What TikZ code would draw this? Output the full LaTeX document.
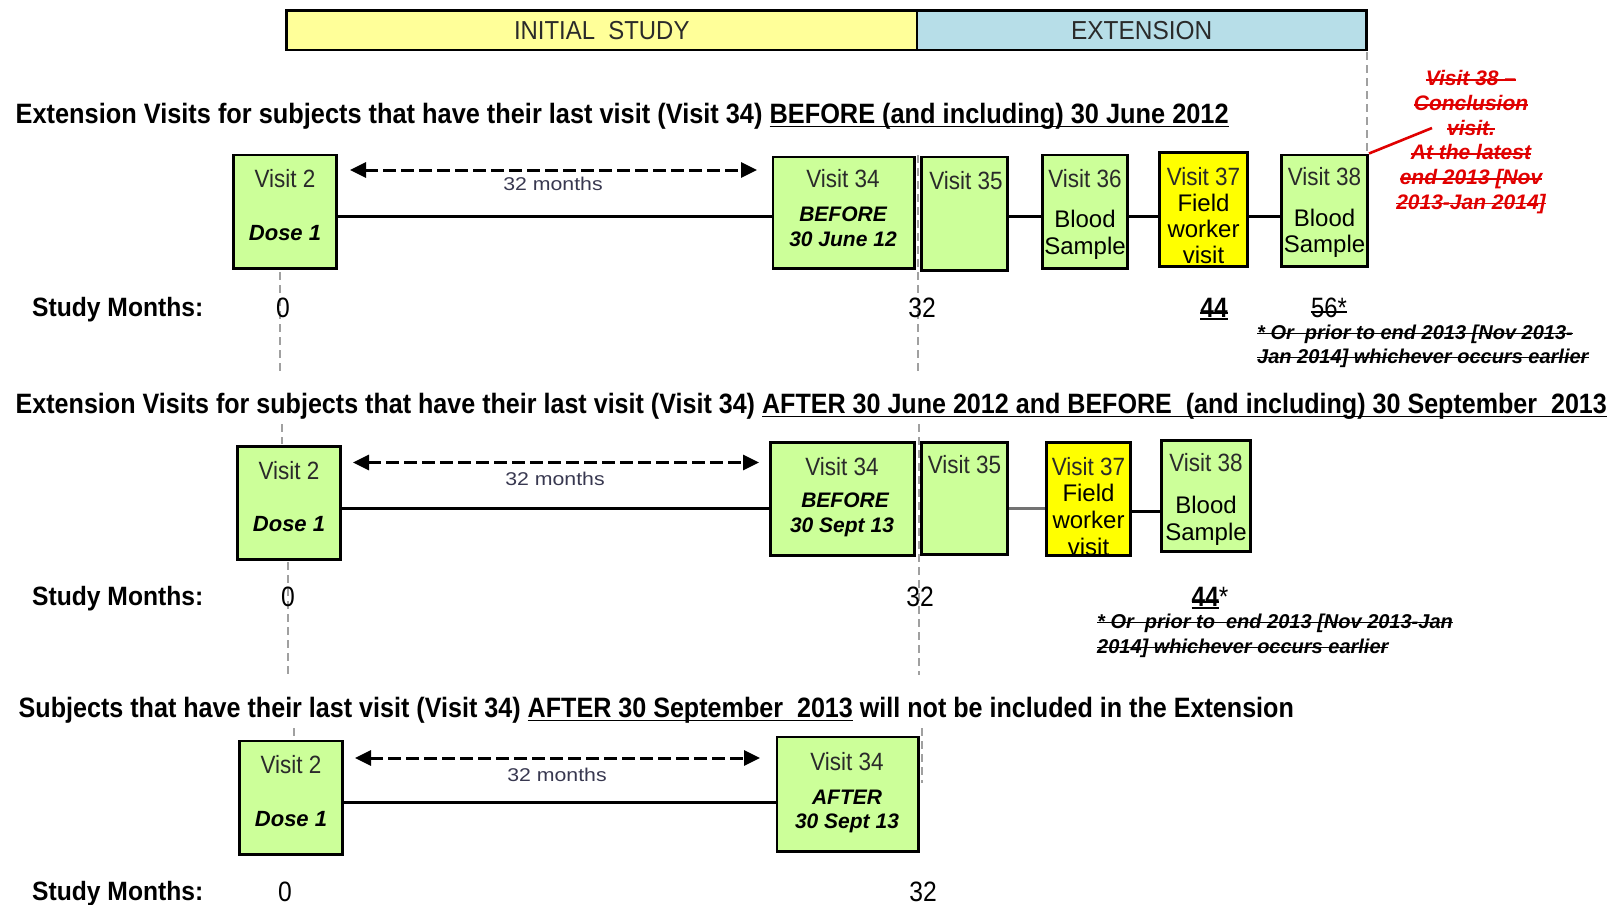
\documentclass[tikz,border=0pt]{standalone}
\usepackage{fontspec}
\setmainfont{Liberation Sans}
\usepackage{graphicx}
\usetikzlibrary{arrows.meta}
\definecolor{barY}{HTML}{FFFF99}
\definecolor{barB}{HTML}{B7DEE8}
\definecolor{boxG}{HTML}{CCFF99}
\definecolor{boxY}{HTML}{FFFF00}
\definecolor{redT}{HTML}{E00000}
\definecolor{txt}{HTML}{2A2A2A}
\definecolor{monthT}{HTML}{383850}
\definecolor{guideC}{HTML}{A0A0A0}
\newcommand{\fsz}[1]{\fontsize{#1}{#1}\selectfont}
\newcommand{\hsc}[2]{\scalebox{#1}[1]{#2}}
\newcommand{\ulx}[1]{\setbox0\hbox{#1}\leavevmode\rlap{\vrule height -2.2pt depth 3.8pt width \wd0}\box0\relax}
\newcommand{\sox}[1]{\setbox0\hbox{#1}\leavevmode\rlap{\vrule height 6.6pt depth -4.8pt width \wd0}\box0\relax}
\tikzset{
  vbox/.style={draw=black, line width=2.8pt, inner sep=0pt},
  gbox/.style={vbox, fill=boxG},
  ybox/.style={vbox, fill=boxY},
  bar/.style={draw=black, line width=2.8pt, inner sep=0pt, font=\fsz{26}, text=txt},
  lbl/.style={anchor=base, inner sep=0pt, text=txt},
  vis/.style={lbl, font=\fsz{25}, yshift=-8.9pt},
  dose/.style={lbl, font=\fsz{22}\bfseries\itshape, yshift=-7.8pt, text=black},
  bef/.style={lbl, font=\fsz{21}\bfseries\itshape, yshift=-7.5pt, text=black},
  big/.style={lbl, font=\fsz{24}, yshift=-8.6pt, text=black},
  mon/.style={lbl, font=\fsz{18.5}, yshift=-6.6pt, text=monthT},
  head/.style={anchor=base west, inner sep=0pt, font=\fsz{28}\bfseries, text=black},
  smo/.style={anchor=base west, inner sep=0pt, font=\fsz{26.5}\bfseries, text=black, yshift=-9.4pt},
  num/.style={lbl, font=\fsz{28}, yshift=-10pt, text=black},
  foot/.style={anchor=base west, inner sep=0pt, font=\fsz{20}\bfseries\itshape, text=black, yshift=-7.1pt},
  redtxt/.style={inner sep=0pt, align=center, font=\fontsize{21}{24.7}\selectfont\bfseries\itshape, text=redT},
  conn/.style={draw=black, line width=3pt},
  darrow/.style={draw=black, line width=3pt, dash pattern=on 13pt off 5pt,
    {Triangle[length=16pt,width=15pt]}-{Triangle[length=16pt,width=15pt]}},
  guide/.style={draw=guideC, line width=2.4pt, dash pattern=on 8pt off 5pt},
  strk/.style={draw=black, line width=1.8pt},
  redline/.style={draw=redT, line width=2.6pt},
}
\begin{document}
\begin{tikzpicture}[x=1pt,y=-1pt]
\useasboundingbox (0,0) rectangle (1615,905);
\fill[white] (0,0) rectangle (1615,905);

% ---- gray dashed guides ----
\draw[guide] (280,272) -- (280,371);
\draw[guide] (282,424) -- (282,444);
\draw[guide] (288,562) -- (288,675);
\draw[guide] (294,728) -- (294,739);
\draw[guide] (918,155) -- (918,371);
\draw[guide] (919,424) -- (919,675);
\draw[guide] (922,728) -- (922,783);
\draw[guide] (1367,52) -- (1367,152);

% ---- top bar ----
\node[bar, fill=barY, minimum width=630.5pt, minimum height=39.6pt] (initial) at (601.75,30.2) {\hsc{0.92}{INITIAL\ \ STUDY}};
\node[bar, fill=barB, minimum width=449.5pt, minimum height=39.6pt] (extension) at (1141.75,30.2) {\hsc{0.94}{EXTENSION}};

% ---- headings ----
\node[head] (h1) at (15.5,123.5) {\hsc{0.905}{Extension Visits for subjects that have their last visit (Visit 34) \ulx{BEFORE (and including) 30 June 2012}}};
\node[head] (h2) at (15.5,413.5) {\hsc{0.896}{Extension Visits for subjects that have their last visit (Visit 34) \ulx{AFTER 30 June 2012 and BEFORE\ \ (and including) 30 September\ \ 2013}}};
\node[head] (h3) at (18.5,717.4) {\hsc{0.897}{Subjects that have their last visit (Visit 34) \ulx{AFTER 30 September\ \ 2013} will not be included in the Extension}};

% ---- row 1 ----
\coordinate (y1) at (0,216);
\coordinate (a1l) at (350,170);
\coordinate (a1r) at (757,170);
\node[gbox, minimum width=103.2pt, minimum height=113.7pt] (r1v2) at (285,211.75) {};
\node[gbox, minimum width=141.7pt, minimum height=111.7pt] (r1v34) at (843.75,212.75) {};
\node[gbox, minimum width=86.2pt, minimum height=113.7pt] (r1v35) at (964.5,213.75) {};
\node[gbox, minimum width=85.2pt, minimum height=113.7pt] (r1v36) at (1085,211.75) {};
\node[ybox, minimum width=88.2pt, minimum height=114.2pt] (r1v37) at (1203.5,209.5) {};
\node[gbox, minimum width=86.2pt, minimum height=111.7pt] (r1v38) at (1324.5,210.75) {};
\draw[conn] (r1v2.east |- y1) -- (r1v34.west |- y1);
\draw[conn] (r1v35.east |- y1) -- (r1v36.west |- y1);
\draw[conn] (r1v36.east |- y1) -- (r1v37.west |- y1);
\draw[conn] (r1v37.east |- y1) -- (r1v38.west |- y1);
\draw[darrow] (a1l) -- (a1r);
\node[mon] (m1) at (553,184) {\hsc{1.15}{32 months}};

\node[vis] (t1a) at (285,179) {\hsc{0.9}{Visit 2}};
\node[dose] (t1b) at (285,233) {Dose 1};
\node[vis] (t1c) at (843,179) {\hsc{0.9}{Visit 34}};
\node[bef] (t1d) at (843,214) {BEFORE};
\node[bef] (t1e) at (843,239) {30 June 12};
\node[vis] (t1f) at (966,181) {\hsc{0.9}{Visit 35}};
\node[vis] (t1g) at (1085,179) {\hsc{0.9}{Visit 36}};
\node[big] (t1h) at (1085,219) {Blood};
\node[big] (t1i) at (1085,246) {Sample};
\node[vis] (t1j) at (1203.5,177) {\hsc{0.9}{Visit 37}};
\node[big] (t1k) at (1203.5,203) {Field};
\node[big] (t1l) at (1203.5,229) {worker};
\node[big] (t1m) at (1203.5,255) {visit};
\node[vis] (t1n) at (1324.5,177) {\hsc{0.9}{Visit 38}};
\node[big] (t1o) at (1324.5,218) {Blood};
\node[big] (t1p) at (1324.5,244) {Sample};

\coordinate (redend) at (1432,128);
\draw[redline] (r1v38.north east) -- (redend);
\node[redtxt] (rnote) at (1471,142) {\sox{Visit 38 --}\\\sox{Conclusion}\\\sox{visit.}\\\sox{At the latest}\\\sox{end 2013 [Nov}\\\sox{2013-Jan 2014]}};

\node[smo] (sm1) at (32,307) {\hsc{0.93}{Study Months:}};
\node[num] (n1a) at (283,307) {\hsc{0.88}{0}};
\node[num] (n1b) at (922,307) {\hsc{0.88}{32}};
\node[num, font=\fsz{28}\bfseries] (n1c) at (1214,307) {\hsc{0.87}{44}};
\node[num] (n1d) at (1329,307) {\hsc{0.85}{56*}};
\draw[strk] ([yshift=4pt]n1c.base west) -- ([yshift=4pt]n1c.base east);
\draw[strk] ([yshift=-2pt]n1c.base west) -- ([yshift=-2pt]n1c.base east);
\draw[strk] ([yshift=5pt]n1d.base west) -- ([yshift=5pt]n1d.base east);
\node[foot] (f1a) at (1257,332) {\sox{* Or\ \ prior to end 2013 [Nov 2013-}};
\node[foot] (f1b) at (1257,356) {\sox{Jan 2014] whichever occurs earlier}};

% ---- row 2 ----
\coordinate (y2) at (0,508);
\coordinate (y2b) at (0,511);
\coordinate (a2l) at (353,462.5);
\coordinate (a2r) at (759,462.5);
\node[gbox, minimum width=103.2pt, minimum height=113.2pt] (r2v2) at (289,503) {};
\node[gbox, minimum width=144.2pt, minimum height=113.2pt] (r2v34) at (842.5,499) {};
\node[gbox, minimum width=86.2pt, minimum height=112.2pt] (r2v35) at (964.5,498.5) {};
\node[ybox, minimum width=84.2pt, minimum height=113.2pt] (r2v37) at (1088.5,499) {};
\node[gbox, minimum width=89.2pt, minimum height=111.2pt] (r2v38) at (1206,496) {};
\draw[conn] (r2v2.east |- y2) -- (r2v34.west |- y2);
\draw[conn, draw=black!55] (r2v35.east |- y2) -- (r2v37.west |- y2);
\draw[conn] (r2v37.east |- y2b) -- (r2v38.west |- y2b);
\draw[darrow] (a2l) -- (a2r);
\node[mon] (m2) at (555,479) {\hsc{1.15}{32 months}};

\node[vis] (t2a) at (289,471) {\hsc{0.9}{Visit 2}};
\node[dose] (t2b) at (289,524) {Dose 1};
\node[vis] (t2c) at (842,467) {\hsc{0.9}{Visit 34}};
\node[bef] (t2d) at (845,500) {BEFORE};
\node[bef] (t2e) at (842,525) {30 Sept 13};
\node[vis] (t2f) at (964.5,464.5) {\hsc{0.9}{Visit 35}};
\node[vis] (t2g) at (1088.5,467) {\hsc{0.9}{Visit 37}};
\node[big] (t2h) at (1088.5,493) {Field};
\node[big] (t2i) at (1088.5,520) {worker};
\node[big] (t2j) at (1088.5,547) {visit};
\node[vis] (t2k) at (1206,462.5) {\hsc{0.9}{Visit 38}};
\node[big] (t2l) at (1206,505) {Blood};
\node[big] (t2m) at (1206,531.5) {Sample};

\node[smo] (sm2) at (32,596) {\hsc{0.93}{Study Months:}};
\node[num] (n2a) at (288,596) {\hsc{0.88}{0}};
\node[num] (n2b) at (920,596) {\hsc{0.88}{32}};
\node[num] (n2c) at (1210,596) {\hsc{0.87}{\textbf{44}*}};
\draw[strk] ([yshift=4pt]n2c.base west) -- ([xshift=-10pt,yshift=4pt]n2c.base east);
\draw[strk] ([yshift=-2pt]n2c.base west) -- ([xshift=-10pt,yshift=-2pt]n2c.base east);
\node[foot] (f2a) at (1097,621) {\sox{* Or\ \ prior to\ \ end 2013 [Nov 2013-Jan}};
\node[foot] (f2b) at (1097,646) {\sox{2014] whichever occurs earlier}};

% ---- row 3 ----
\coordinate (y3) at (0,802);
\coordinate (a3l) at (355,758);
\coordinate (a3r) at (760,758);
\node[gbox, minimum width=103.2pt, minimum height=113.7pt] (r3v2) at (291,797.75) {};
\node[gbox, minimum width=141.7pt, minimum height=114.7pt] (r3v34) at (847.75,794.25) {};
\draw[conn] (r3v2.east |- y3) -- (r3v34.west |- y3);
\draw[darrow] (a3l) -- (a3r);
\node[mon] (m3) at (557,774.5) {\hsc{1.15}{32 months}};
\node[vis] (t3a) at (291,765) {\hsc{0.9}{Visit 2}};
\node[dose] (t3b) at (291,819) {Dose 1};
\node[vis] (t3c) at (847,762) {\hsc{0.9}{Visit 34}};
\node[bef] (t3d) at (847,797) {AFTER};
\node[bef] (t3e) at (847,821) {30 Sept 13};

\node[smo] (sm3) at (32,891) {\hsc{0.93}{Study Months:}};
\node[num] (n3a) at (285,891) {\hsc{0.88}{0}};
\node[num] (n3b) at (923,891) {\hsc{0.88}{32}};
\end{tikzpicture}
\end{document}
